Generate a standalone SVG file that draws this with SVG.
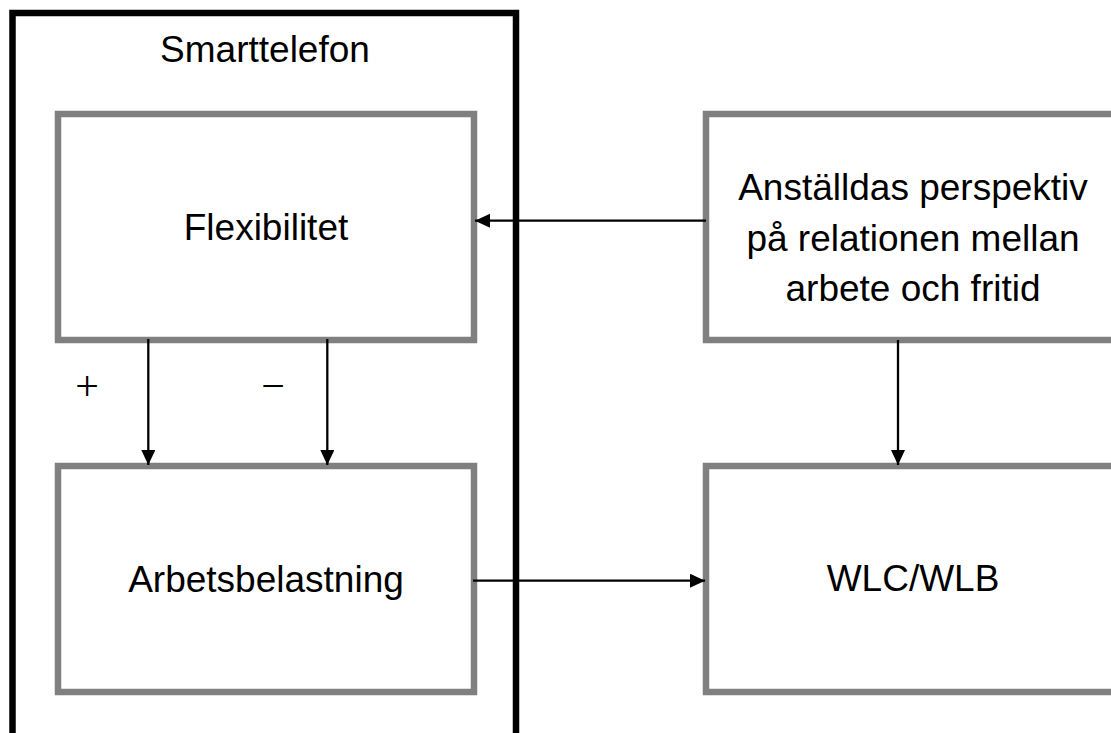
<svg xmlns="http://www.w3.org/2000/svg" width="1111" height="733" viewBox="0 0 1111 733">
<style>
  .box { fill: #ffffff; stroke: #808080; stroke-width: 6.5; }
  .outer { fill: none; stroke: #000000; stroke-width: 6.5; }
  .lbl { font-family: "Liberation Sans", Arial, sans-serif; font-size: 37px; fill: #000000; text-anchor: middle; }
  .sign { font-family: "Liberation Serif", "Times New Roman", serif; font-size: 42px; fill: #000000; text-anchor: middle; }
  .conn { stroke: #000000; stroke-width: 2.3; fill: none; }
</style>
<defs>
  <marker id="arrow" markerUnits="userSpaceOnUse" markerWidth="16" markerHeight="16" refX="15" refY="7" orient="auto">
    <path d="M0,0 L15,7 L0,14 Z" fill="#000000"/>
  </marker>
</defs>
<rect width="1111" height="733" fill="#ffffff"/>
<g id="smarttelefon">
  <rect class="outer" x="12.5" y="13" width="503.5" height="740"/>
  <text class="lbl" x="265" y="62">Smarttelefon</text>
</g>
<g id="flexibilitet">
  <rect class="box" x="58" y="114" width="416" height="226"/>
  <text class="lbl" x="266" y="240">Flexibilitet</text>
</g>
<g id="arbetsbelastning">
  <rect class="box" x="58" y="466" width="416" height="226"/>
  <text class="lbl" x="266" y="592">Arbetsbelastning</text>
</g>
<g id="perspektiv">
  <rect class="box" x="706" y="114" width="414" height="226"/>
  <text class="lbl" x="913" y="200">Anställdas perspektiv</text>
  <text class="lbl" x="913" y="251">på relationen mellan</text>
  <text class="lbl" x="913" y="301">arbete och fritid</text>
</g>
<g id="wlc">
  <rect class="box" x="706" y="466" width="414" height="226"/>
  <text class="lbl" x="913" y="591">WLC/WLB</text>
</g>
<g id="connectors">
  <line class="conn" x1="706" y1="220.7" x2="475" y2="220.7" marker-end="url(#arrow)"/>
  <line class="conn" x1="473" y1="580.7" x2="705" y2="580.7" marker-end="url(#arrow)"/>
  <line class="conn" x1="898" y1="340" x2="898" y2="465" marker-end="url(#arrow)"/>
  <line class="conn" x1="148.3" y1="339" x2="148.3" y2="465" marker-end="url(#arrow)"/>
  <line class="conn" x1="327.3" y1="339" x2="327.3" y2="465" marker-end="url(#arrow)"/>
  <text class="sign" x="87" y="400">+</text>
  <text class="sign" x="273" y="400">−</text>
</g>
</svg>
